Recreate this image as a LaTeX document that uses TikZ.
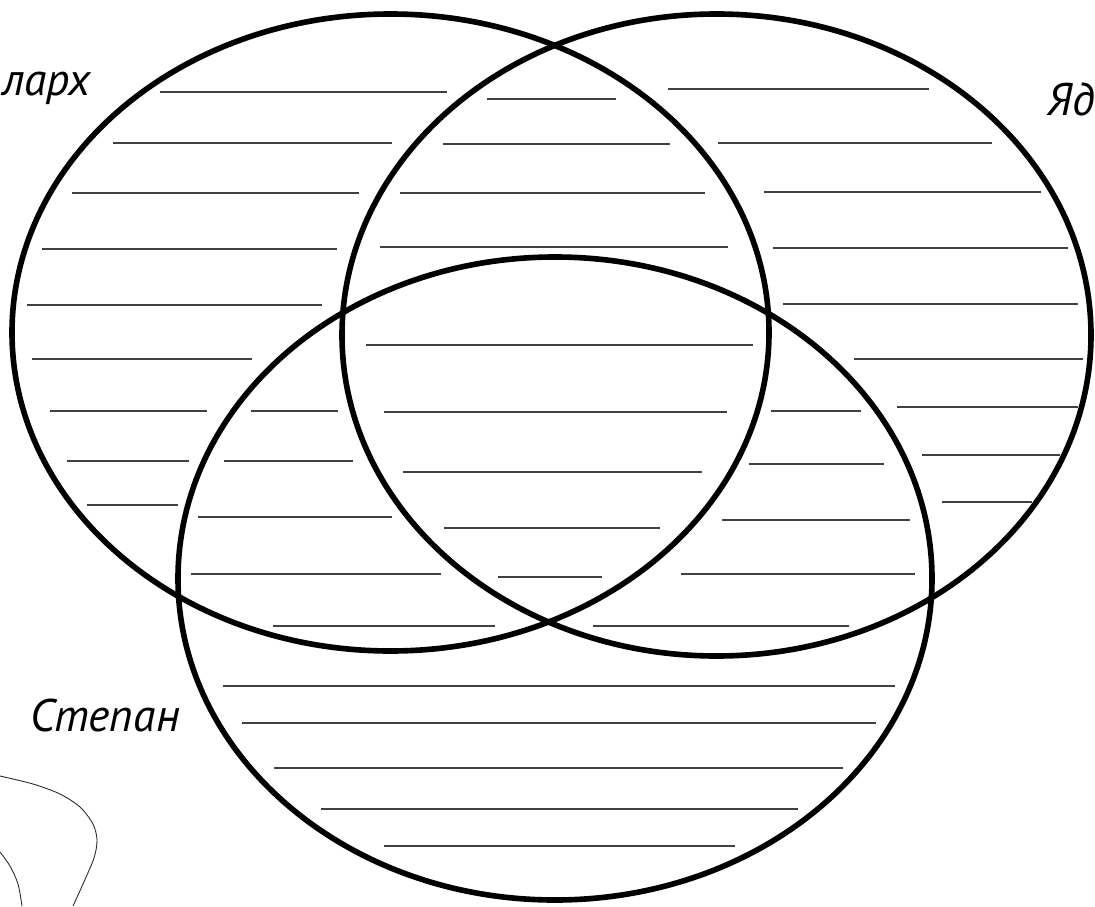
\documentclass[tikz,border=0pt]{standalone}
\usepackage{fontspec}
\usepackage{xcolor}
\newfontfamily\handfont{PT Sans}
\definecolor{vennRing}{HTML}{000000}
\definecolor{vennRule}{HTML}{404040}
\definecolor{vennDoodle}{HTML}{2A2A2A}

\begin{document}
\begin{tikzpicture}[x=0.02cm, y=-0.02cm,
    ring/.style={draw=vennRing, line width=3.2pt},
    rule/.style={draw=vennRule, line width=0.95pt},
    setname/.style={font=\handfont\itshape\fontsize{26}{30}\selectfont, inner sep=0pt}]
  \useasboundingbox (0,0) rectangle (1095,906);
  \fill[white] (0,0) rectangle (1095,906);
  % rules, top ellipses
  \draw[rule] (160,92) -- (447,92);
  \draw[rule] (487,99) -- (616,99);
  \draw[rule] (668,89) -- (929,89);
  \draw[rule] (113,143) -- (392,143);
  \draw[rule] (443,144) -- (670,144);
  \draw[rule] (718,143) -- (992,143);
  \draw[rule] (72,193) -- (359,193);
  \draw[rule] (400,193) -- (705,193);
  \draw[rule] (764,192) -- (1041,192);
  \draw[rule] (42,249) -- (337,249);
  \draw[rule] (380,247) -- (728,247);
  \draw[rule] (773,248) -- (1068,248);
  \draw[rule] (27,305) -- (322,305);
  \draw[rule] (783,304) -- (1078,304);
  \draw[rule] (366,345) -- (753,345);
  \draw[rule] (32,359) -- (252,359);
  \draw[rule] (854,359) -- (1083,359);
  \draw[rule] (50,411) -- (207,411);
  \draw[rule] (251,411) -- (338,411);
  \draw[rule] (384,412) -- (727,412);
  \draw[rule] (771,411) -- (861,411);
  \draw[rule] (897,407) -- (1078,407);
  \draw[rule] (67,461) -- (189,461);
  \draw[rule] (224,461) -- (353,461);
  \draw[rule] (403,472) -- (702,472);
  \draw[rule] (749,464) -- (884,464);
  \draw[rule] (922,455) -- (1060,455);
  \draw[rule] (87,505) -- (178,505);
  \draw[rule] (942,502) -- (1032,502);
  \draw[rule] (198,517) -- (392,517);
  \draw[rule] (444,528) -- (660,528);
  \draw[rule] (722,520) -- (910,520);
  \draw[rule] (191,574) -- (441,574);
  \draw[rule] (498,577) -- (602,577);
  \draw[rule] (681,574) -- (915,574);
  \draw[rule] (273,626) -- (495,626);
  \draw[rule] (593,626) -- (849,626);
  % rules, bottom ellipse
  \draw[rule] (223,686) -- (895,686);
  \draw[rule] (242,723) -- (876,723);
  \draw[rule] (274,768) -- (843,768);
  \draw[rule] (321,809) -- (798,809);
  \draw[rule] (384,846) -- (735,846);
  % the three sets
  \draw[ring] (390.5,332.5) ellipse [x radius=378.5, y radius=318.5];
  \draw[ring] (716.5,335) ellipse [x radius=374.5, y radius=321];
  \draw[ring] (555,578.5) ellipse [x radius=377, y radius=321.5];
  % names
  \node[setname, anchor=base west] (marx) at (2,95) {ларх};
  \node[setname, anchor=base west] (yad) at (1047,115) {Яд};
  \node[setname, anchor=base west] (stepan) at (30,731) {Степан};
  % doodle in the corner
  \draw[vennDoodle, line width=0.5pt] plot[smooth] coordinates
    {(0,776) (33,784) (60,794) (80,807) (93,824) (97,840) (94,858) (83,884) (73,906)};
  \draw[vennDoodle, line width=0.5pt] plot[smooth] coordinates
    {(0,852) (10,866) (18,884) (22,906)};
\end{tikzpicture}
\end{document}
